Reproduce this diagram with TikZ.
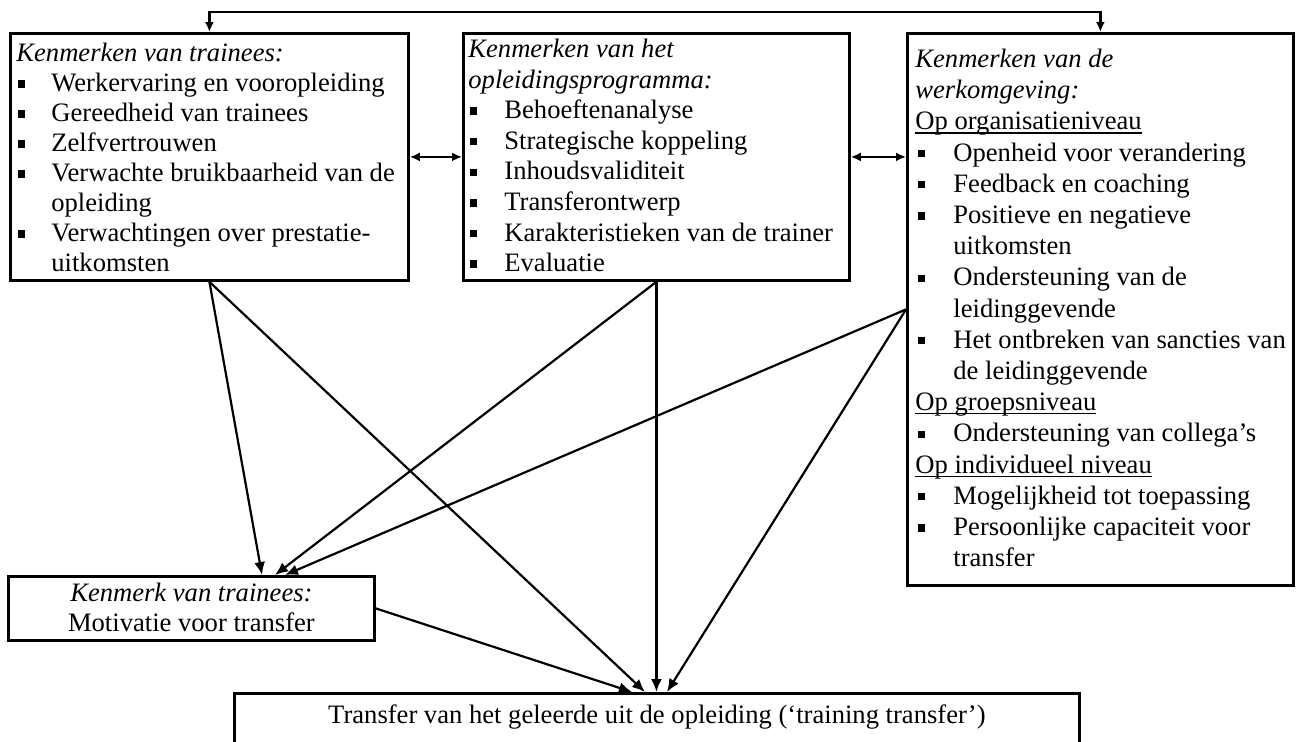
\documentclass[tikz,border=0pt]{standalone}
\usepackage{fontspec}
\setmainfont{Liberation Serif}
\usetikzlibrary{arrows.meta}
\newlength\tind
\newlength\bind
\newcommand\bitem[1]{\par\hangindent=\tind\hangafter=1\noindent\makebox[\tind][l]{\hspace{\bind}\rule[1.9pt]{3.7pt}{3.7pt}}#1}
\newcommand\ulin[1]{\setbox0\hbox{#1}\rlap{\rule[-1.9pt]{\wd0}{0.6pt}}\box0}
\newcommand\subhead[1]{\par\noindent\ulin{#1}}
% width, height, first baseline, baselineskip, content
\newcommand\boxtext[5]{\parbox[t][#2][t]{#1}{\fontsize{13.3}{#4}\selectfont\raggedright\vspace*{\dimexpr#3-10pt\relax}\rule{0pt}{10pt}#5}}
\begin{document}
\begin{tikzpicture}[x=0.5pt,y=-0.5pt,
  box/.style={draw, line width=1.4pt, inner ysep=0pt, anchor=north west},
  conn/.style={line width=1.1pt},
  smallarr/.style={conn, {Latex[length=5pt,width=4.5pt]}-{Latex[length=5pt,width=4.5pt]}},
  bigarr/.style={conn, -{Latex[length=6.5pt,width=5.5pt]}}]
\useasboundingbox (0,0) rectangle (1298,741);
\clip (0,0) rectangle (1298,741);

\node[box, inner xsep=3pt] (A) at (9,32) {\boxtext{193pt}{123.5pt}{14pt}{15pt}{%
\setlength\tind{17.5pt}\setlength\bind{0.75pt}%
\textit{Kenmerken van trainees:}%
\bitem{Werkervaring en vooropleiding}%
\bitem{Gereedheid van trainees}%
\bitem{Zelfvertrouwen}%
\bitem{\mbox{Verwachte bruikbaarheid van de}\newline opleiding}%
\bitem{Verwachtingen over prestatie-\newline uitkomsten}}};

\node[box, inner xsep=2.5pt] (B) at (462,32) {\boxtext{188pt}{123.5pt}{12pt}{15.3pt}{%
\setlength\tind{18pt}\setlength\bind{0.75pt}%
\textit{Kenmerken van het\newline opleidingsprogramma:}%
\bitem{Behoeftenanalyse}%
\bitem{Strategische koppeling}%
\bitem{Inhoudsvaliditeit}%
\bitem{Transferontwerp}%
\bitem{\mbox{Karakteristieken van de trainer}}%
\bitem{Evaluatie}}};

\node[box, inner xsep=4pt] (C) at (906,32) {\boxtext{185pt}{276pt}{17pt}{15.6pt}{%
\setlength\tind{19pt}\setlength\bind{1.25pt}%
\textit{Kenmerken van de\newline werkomgeving:}%
\subhead{Op organisatieniveau}%
\bitem{Openheid voor verandering}%
\bitem{Feedback en coaching}%
\bitem{Positieve en negatieve\newline uitkomsten}%
\bitem{Ondersteuning van de\newline leidinggevende}%
\bitem{\mbox{Het ontbreken van sancties van}\newline de leidinggevende}%
\subhead{Op groepsniveau}%
\bitem{Ondersteuning van collega’s}%
\subhead{Op individueel niveau}%
\bitem{Mogelijkheid tot toepassing}%
\bitem{Persoonlijke capaciteit voor\newline transfer}}};

\node[box, inner xsep=0pt] (D) at (7,575) {\parbox[t][32pt][t]{183pt}{\centering\fontsize{13.3}{15}\selectfont\vspace*{2.5pt}\rule{0pt}{10pt}\textit{Kenmerk van trainees:}\\Motivatie voor transfer}};

\node[box, inner xsep=0pt] (E) at (233,692) {\parbox[t][40pt][t]{422.5pt}{\centering\fontsize{13.3}{15}\selectfont\vspace*{4.8pt}\rule{0pt}{10pt}Transfer van het geleerde uit de opleiding (‘training transfer’)}};

% connectors between the top boxes
\draw[smallarr] (A.north) -- ++(0,-20) -| (C.north);
\draw[smallarr] (A.east) -- (B.west);
\draw[smallarr] (B.east) -- (B.east -| C.west);

% end points on the lower boxes
\coordinate (dA) at (262,575);
\coordinate (dB) at (275,575);
\coordinate (dC) at (285,575);
\coordinate (eD) at (632,692);
\coordinate (eA) at (645,692);
\coordinate (eC) at (667,692);

\draw[bigarr] (A.south) -- (dA);
\draw[bigarr] (A.south) -- (eA);
\draw[bigarr] (B.south) -- (dB);
\draw[bigarr] (B.south) -- (B.south |- E.north);
\draw[bigarr] (C.west) -- (dC);
\draw[bigarr] (C.west) -- (eC);
\draw[bigarr] (D.east) -- (eD);
\end{tikzpicture}
\end{document}
